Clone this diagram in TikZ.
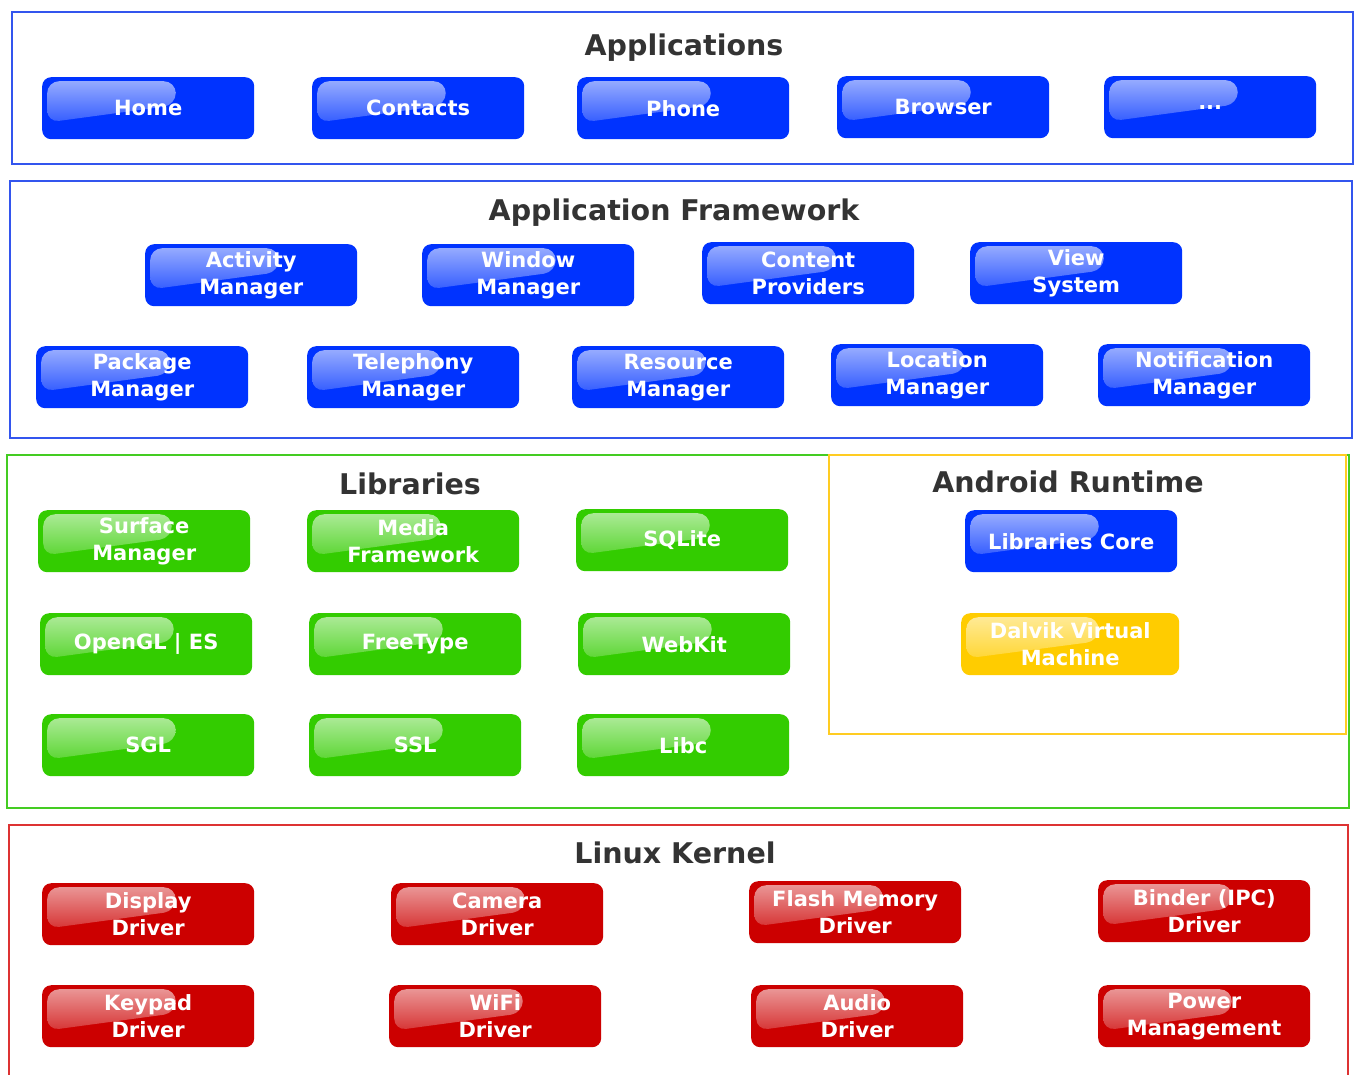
\documentclass[tikz,border=0pt]{standalone}
\usepackage{fontspec}
\setmainfont{DejaVu Sans}
\usetikzlibrary{calc}
\definecolor{bblue}{HTML}{0033FF}
\definecolor{bgreen}{HTML}{33CC00}
\definecolor{byellow}{HTML}{FFCC00}
\definecolor{bred}{HTML}{CC0000}
\definecolor{lblue}{HTML}{3355EE}
\definecolor{lgreen}{HTML}{44CC22}
\definecolor{lyellow}{HTML}{FFCC22}
\definecolor{lred}{HTML}{DD3333}
\definecolor{ttl}{HTML}{333333}
\tikzset{
  layer/.style={draw=#1, line width=2.8pt},
  ttlnode/.style={text=ttl, font=\bfseries\fontsize{28.5}{32}\selectfont},
  btn/.style={fill=#1, rounded corners=9pt, minimum width=212pt, minimum height=62pt,
    anchor=north west, inner sep=0pt, align=center, text=white,
    font=\bfseries\fontsize{21}{27}\selectfont,
    path picture={
      \shade[top color=white!62!#1, bottom color=white!5!#1, rounded corners=12pt]
        let \p1=(path picture bounding box.north west), \p2=(path picture bounding box.south east) in
        (\x1+5pt,\y1-4pt) -- (0.37*\x1+0.63*\x2, \y1-4pt) -- (0.37*\x1+0.63*\x2, 0.55*\y1+0.45*\y2)
        -- (\x1+5pt, 0.27*\y1+0.73*\y2) -- cycle;
    }},
  bb/.style={btn=bblue},
  gb/.style={btn=bgreen},
  yb/.style={btn=byellow},
  rb/.style={btn=bred}
}
\begin{document}
\begin{tikzpicture}[x=1pt,y=-1pt]
\useasboundingbox (0,0) rectangle (1356,1074);
\clip (0,0) rectangle (1356,1074);
\fill[white] (0,0) rectangle (1356,1074);
% Applications
\draw[layer=lblue] (12,12) rectangle (1353,164);
\node[ttlnode] (tapp) at (684,48) {Applications};
\node[bb] (home) at (42,77) {Home};
\node[bb] (contacts) at (312,77) {Contacts};
\node[bb] (phone) at (577,77) {Phone};
\node[bb] (browser) at (837,76) {Browser};
\node[bb] (dots) at (1104,76) {...};
% Application Framework
\draw[layer=lblue] (10,181) rectangle (1352,438);
\node[ttlnode] (tfw) at (674,213) {Application Framework};
\node[bb] (activity) at (145,244) {Activity\\Manager};
\node[bb] (window) at (422,244) {Window\\Manager};
\node[bb] (content) at (702,242) {Content\\Providers};
\node[bb] (view) at (970,242) {View\\System};
\node[bb] (package) at (36,346) {Package\\Manager};
\node[bb] (telephony) at (307,346) {Telephony\\Manager};
\node[bb] (resource) at (572,346) {Resource\\Manager};
\node[bb] (location) at (831,344) {Location\\Manager};
\node[bb] (notification) at (1098,344) {Notification\\Manager};
% Libraries
\draw[layer=lgreen] (7,455) rectangle (1349,808);
\node[ttlnode] (tlib) at (410,484) {Libraries};
\node[gb] (surface) at (38,510) {Surface\\Manager};
\node[gb] (media) at (307,510) {Media\\Framework};
\node[gb] (sqlite) at (576,509) {SQLite};
\node[gb] (opengl) at (40,613) {OpenGL | ES};
\node[gb] (freetype) at (309,613) {FreeType};
\node[gb] (webkit) at (578,613) {WebKit};
\node[gb] (sgl) at (42,714) {SGL};
\node[gb] (ssl) at (309,714) {SSL};
\node[gb] (libc) at (577,714) {Libc};
% Android Runtime
\draw[layer=lyellow] (829,455) rectangle (1346,734);
\node[ttlnode] (trt) at (1068,482) {Android Runtime};
\node[bb] (core) at (965,510) {Libraries Core};
\node[yb, minimum width=218pt] (dalvik) at (961,613) {Dalvik Virtual\\Machine};
% Linux Kernel
\draw[layer=lred] (9,825) rectangle (1348,1090);
\node[ttlnode] (tlk) at (675,853) {Linux Kernel};
\node[rb] (display) at (42,883) {Display\\Driver};
\node[rb] (camera) at (391,883) {Camera\\Driver};
\node[rb] (flash) at (749,881) {Flash Memory\\Driver};
\node[rb] (binder) at (1098,880) {Binder (IPC)\\Driver};
\node[rb] (keypad) at (42,985) {Keypad\\Driver};
\node[rb] (wifi) at (389,985) {WiFi\\Driver};
\node[rb] (audio) at (751,985) {Audio\\Driver};
\node[rb] (power) at (1098,985) {Power\\Management};
\end{tikzpicture}
\end{document}
